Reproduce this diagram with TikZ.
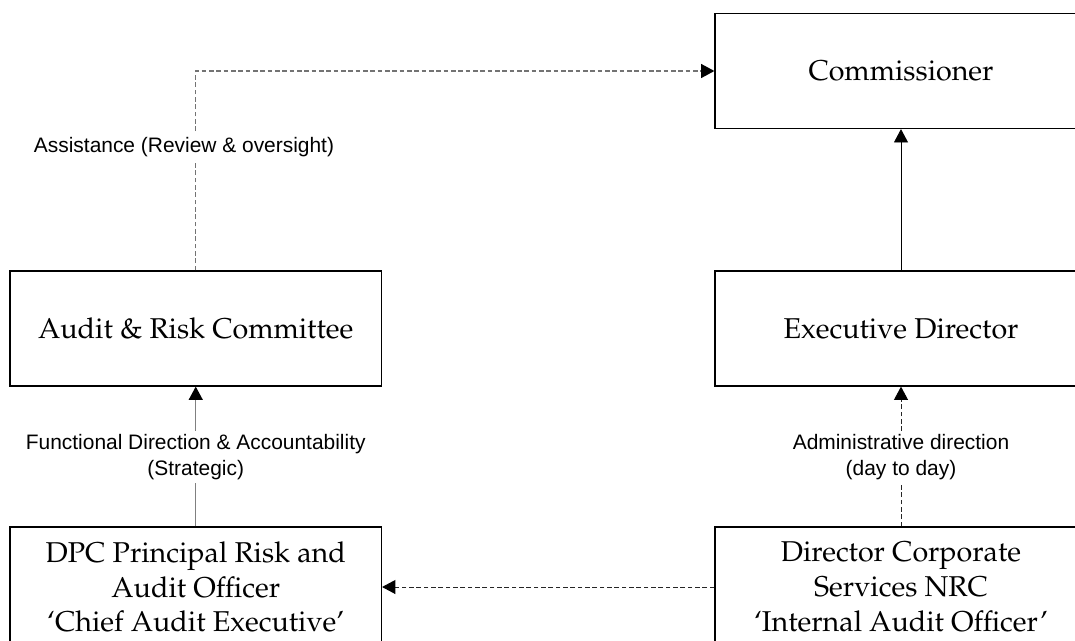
\documentclass[tikz,border=0pt]{standalone}
\usepackage[T1]{fontenc}
\usepackage{fontspec}
\newfontfamily\arialfont{Liberation Sans}
\newcommand\palfont{\usefont{T1}{ppl}{m}{n}\fontsize{21.5}{26}\selectfont}
\usetikzlibrary{arrows.meta}
\begin{document}
\begin{tikzpicture}[x=0.75pt,y=-0.75pt,
  box/.style={draw=black, line width=0.9pt, rectangle, inner sep=0pt, align=center,
    font=\palfont},
  lbox/.style={box, minimum width=278.6pt},
  rbox/.style={box, minimum width=279pt},
  topbox/.style={minimum height=86.25pt},
  botbox/.style={minimum height=90pt},
  tip/.style={-{Triangle[length=10pt,width=10.5pt,black]}},
  grayline/.style={draw=black!50, line width=1pt, tip},
  graydash/.style={draw=black!55, line width=1pt, dash pattern=on 3.5pt off 2pt, tip},
  blackline/.style={draw=black, line width=0.6pt, tip},
  blackdash/.style={draw=black!85, line width=0.7pt, dash pattern=on 3.5pt off 2pt, tip},
  lbl/.style={fill=white, inner sep=2.5pt, align=center,
    font=\arialfont\fontsize{15.7}{19}\selectfont}
]
\useasboundingbox (0,0) rectangle (1075,640);

\node[rbox, topbox] (comm) at (901,71) {Commissioner};
\node[lbox, topbox] (arc) at (195.75,328.5) {Audit \& Risk Committee};
\node[rbox, topbox] (exec) at (901,328.5) {Executive Director};
\node[lbox, botbox] (dpc) at (195.75,587) {DPC Principal Risk and\\Audit Officer\\`Chief Audit Executive'};
\node[rbox, botbox] (dir) at (901,587) {Director Corporate\\Services NRC\\`Internal Audit Officer'};

\draw[graydash] (arc.north) |- (comm.west);
\draw[grayline] (dpc.north) -- (arc.south);
\draw[blackline] (exec.north) -- (comm.south);
\draw[blackdash] (dir.north) -- (exec.south);
\draw[blackdash] (dir.west) -- (dpc.east);

\node[lbl] (l1) at (184,147) {Assistance (Review \& oversight)};
\node[lbl] (l2) at (195.75,457) {Functional Direction \& Accountability\\(Strategic)};
\node[lbl] (l3) at (901,457) {Administrative direction\\(day to day)};
\end{tikzpicture}
\end{document}
